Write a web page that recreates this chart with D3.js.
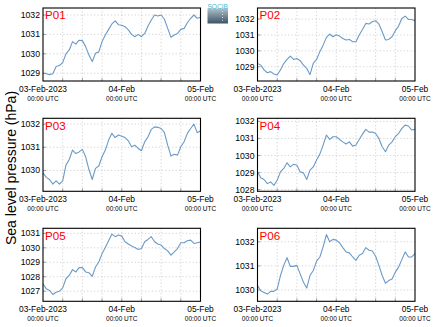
<!DOCTYPE html>
<html><head><meta charset="utf-8">
<script src="https://cdn.jsdelivr.net/npm/d3@7"></script>
<style>html,body{margin:0;padding:0;background:#fff;}svg{display:block;}</style>
</head><body>
<svg id="c" width="434" height="327"></svg>
<script>
// ---- data (hourly, 03-Feb-2023 00:00 UTC to 05-Feb-2023 00:00 UTC) ----
const stations = ["P01","P02","P03","P04","P05","P06"];
const startTime = "2023-02-03T00:00:00Z";
const P01 = [1029.0,1028.97,1028.93,1028.97,1029.35,1029.4,1029.55,1030.0,1030.2,1030.63,1030.5,1030.7,1030.68,1030.37,1029.94,1029.6,1030.03,1030.1,1030.63,1030.97,1031.26,1031.54,1031.7,1031.5,1031.47,1031.4,1031.23,1031.0,1030.88,1031.0,1030.88,1031.05,1031.43,1031.74,1032.0,1031.95,1032.0,1031.78,1031.31,1030.85,1030.97,1031.05,1031.26,1031.31,1031.6,1031.83,1032.0,1031.83,1031.88];
const P02 = [1029.21,1029.1,1028.8,1028.62,1028.69,1028.54,1028.48,1028.8,1029.2,1029.46,1029.67,1029.46,1029.52,1029.38,1029.1,1028.9,1028.5,1029.21,1029.46,1029.95,1030.36,1030.85,1031.06,1030.89,1031.01,1030.93,1030.78,1030.68,1030.72,1030.57,1030.57,1031.0,1031.35,1031.73,1031.69,1031.83,1031.9,1031.69,1031.2,1030.68,1030.72,1030.89,1031.27,1031.56,1032.04,1032.19,1031.98,1031.98,1031.9];
const P03 = [1029.9,1029.7,1029.61,1029.41,1029.55,1029.41,1029.55,1030.23,1030.47,1030.88,1030.73,1030.8,1030.91,1030.59,1030.04,1029.61,1030.09,1030.19,1030.59,1030.88,1031.31,1031.6,1031.42,1031.53,1031.48,1031.42,1031.28,1031.02,1031.09,1030.95,1030.85,1031.24,1031.45,1031.77,1031.88,1031.86,1031.81,1031.63,1031.09,1030.62,1030.7,1030.66,1031.02,1031.24,1031.6,1031.81,1032.0,1031.63,1031.71];
const P04 = [1029.04,1028.7,1028.59,1028.35,1028.45,1028.25,1028.55,1029.04,1029.24,1029.57,1029.33,1029.49,1029.43,1029.04,1028.98,1028.59,1029.14,1029.33,1029.73,1030.08,1030.61,1031.2,1030.94,1031.1,1031.1,1030.94,1030.8,1030.67,1030.8,1030.55,1030.61,1030.94,1031.25,1031.53,1031.37,1031.37,1031.29,1031.0,1030.51,1030.22,1030.61,1030.8,1031.1,1031.29,1031.59,1031.78,1031.73,1031.49,1031.53];
const P05 = [1027.51,1027.16,1027.05,1026.77,1026.93,1027.0,1027.23,1027.86,1028.09,1028.49,1028.33,1028.63,1028.63,1028.33,1028.28,1028.02,1028.67,1029.02,1029.6,1030.02,1030.49,1030.95,1030.77,1030.88,1030.81,1030.42,1030.26,1030.12,1030.02,1029.88,1029.95,1030.42,1030.58,1030.77,1030.42,1030.26,1030.19,1029.95,1029.79,1029.49,1029.72,1029.95,1030.35,1030.35,1030.49,1030.53,1030.3,1030.35,1030.4];
const P06 = [1030.18,1029.97,1029.9,1029.83,1029.94,1029.94,1030.04,1030.6,1031.02,1031.34,1030.98,1030.98,1031.02,1030.67,1030.32,1030.08,1030.6,1030.81,1031.2,1031.37,1031.79,1032.3,1032.0,1032.1,1032.07,1031.96,1031.76,1031.58,1031.54,1031.37,1031.23,1031.44,1031.51,1031.76,1031.65,1031.62,1031.4,1031.02,1030.6,1030.28,1030.39,1030.46,1030.74,1030.95,1031.26,1031.58,1031.37,1031.37,1031.51];
const series = [P01,P02,P03,P04,P05,P06];
const yDomains = [[1028.6,1032.36],[1028.1,1032.7],[1029.1,1032.25],[1027.9,1032.18],[1026.3,1031.35],[1029.53,1032.56]];
const yTicks = [[1029,1030,1031,1032],[1029,1030,1031,1032],[1030,1031,1032],[1028,1029,1030,1031,1032],[1027,1028,1029,1030,1031],[1030,1031,1032]];
const xTickLabels = ["03-Feb-2023","04-Feb","05-Feb"];
const xTickSub = "00:00 UTC";
const yLabel = "Sea level pressure (hPa)";

// ---- layout ----
const svg = d3.select("#c");
const colX = [43, 257.5], rowY = [8, 118.3, 228.3];
const pw = 157.5, ph = 73;
const font = "'Liberation Sans', Arial, Helvetica, sans-serif";
const t0 = new Date(startTime);
const tEnd = d3.utcHour.offset(t0, 48);

series.forEach((vals, i) => {
  const gx = colX[i % 2], gy = rowY[Math.floor(i / 2)];
  const g = svg.append("g").attr("transform", `translate(${gx},${gy})`);
  const x = d3.scaleUtc().domain([t0, tEnd]).range([0, pw]);
  const y = d3.scaleLinear().domain(yDomains[i]).range([ph, 0]);
  const data = vals.map((v, k) => ({t: d3.utcHour.offset(t0, k), v}));
  const grid6 = d3.utcHour.every(6).range(t0, tEnd).slice(1);

  // grid
  g.selectAll(".vg").data(grid6).join("line")
    .attr("x1", d => x(d)).attr("x2", d => x(d)).attr("y1", 0).attr("y2", ph)
    .attr("stroke", "#c8c8c8").attr("stroke-width", 0.8).attr("stroke-dasharray", "1.2,2.2");
  g.selectAll(".hg").data(yTicks[i]).join("line")
    .attr("x1", 0).attr("x2", pw).attr("y1", d => y(d)).attr("y2", d => y(d))
    .attr("stroke", "#c8c8c8").attr("stroke-width", 0.8).attr("stroke-dasharray", "1.2,2.2");

  // inward minor ticks
  g.selectAll(".bt").data(grid6).join("line")
    .attr("x1", d => x(d)).attr("x2", d => x(d)).attr("y1", ph).attr("y2", ph - 3)
    .attr("stroke", "#888").attr("stroke-width", 0.8);
  g.selectAll(".lt").data(yTicks[i]).join("line")
    .attr("x1", 0).attr("x2", 3).attr("y1", d => y(d)).attr("y2", d => y(d))
    .attr("stroke", "#888").attr("stroke-width", 0.8);

  // line
  g.append("path").datum(data)
    .attr("fill", "none").attr("stroke", "#6b9ac6").attr("stroke-width", 1.1)
    .attr("stroke-linejoin", "round")
    .attr("d", d3.line().x(d => x(d.t)).y(d => y(d.v)));

  // frame
  g.append("rect").attr("x", 0).attr("y", 0).attr("width", pw).attr("height", ph)
    .attr("fill", "none").attr("stroke", "#000").attr("stroke-width", 1.1);

  // y tick labels
  g.selectAll(".yl").data(yTicks[i]).join("text")
    .attr("x", -3).attr("y", d => y(d)).attr("dy", "0.35em")
    .attr("text-anchor", "end").attr("font-family", font).attr("font-size", 8.7)
    .attr("fill", "#000").text(d => d);

  // x tick labels
  const xt = [t0, d3.utcHour.offset(t0, 24), tEnd];
  xt.forEach((d, k) => {
    g.append("text").attr("x", x(d)).attr("y", ph + 10.5).attr("text-anchor", "middle")
      .attr("font-family", font).attr("font-size", 8.4).attr("fill", "#000").text(xTickLabels[k]);
    g.append("text").attr("x", x(d)).attr("y", ph + 19.5).attr("text-anchor", "middle")
      .attr("font-family", font).attr("font-size", 6.5).attr("fill", "#000").text(xTickSub);
  });

  // station label
  g.append("text").attr("x", 2).attr("y", 11.3)
    .attr("font-family", font).attr("font-size", 11.6).attr("fill", "#ff0000").text(stations[i]);
});

// y axis label
svg.append("text").attr("transform", "translate(16,168) rotate(-90)")
  .attr("text-anchor", "middle").attr("font-family", font).attr("font-size", 14)
  .attr("fill", "#000").text(yLabel);

// logo
const defs = svg.append("defs");
const lg = defs.append("linearGradient").attr("id", "lg").attr("x1", 0).attr("y1", 0).attr("x2", 0).attr("y2", 1);
lg.append("stop").attr("offset", "0%").attr("stop-color", "#aebfc8");
lg.append("stop").attr("offset", "100%").attr("stop-color", "#3c5466");
svg.append("rect").attr("x", 207.5).attr("y", 8.5).attr("width", 20.5).attr("height", 15).attr("fill", "url(#lg)");
svg.append("text").attr("x", 217.7).attr("y", 8.6).attr("text-anchor", "middle")
  .attr("font-family", font).attr("font-size", 6.6).attr("fill", "#3fb8d0").text("SOCIB");
svg.selectAll(".dots").data([0,1,2,3]).join("rect")
  .attr("x", 222).attr("y", d => 11 + d * 3).attr("width", 0.8).attr("height", 0.8).attr("fill", "#fff");
</script>
</body></html>
